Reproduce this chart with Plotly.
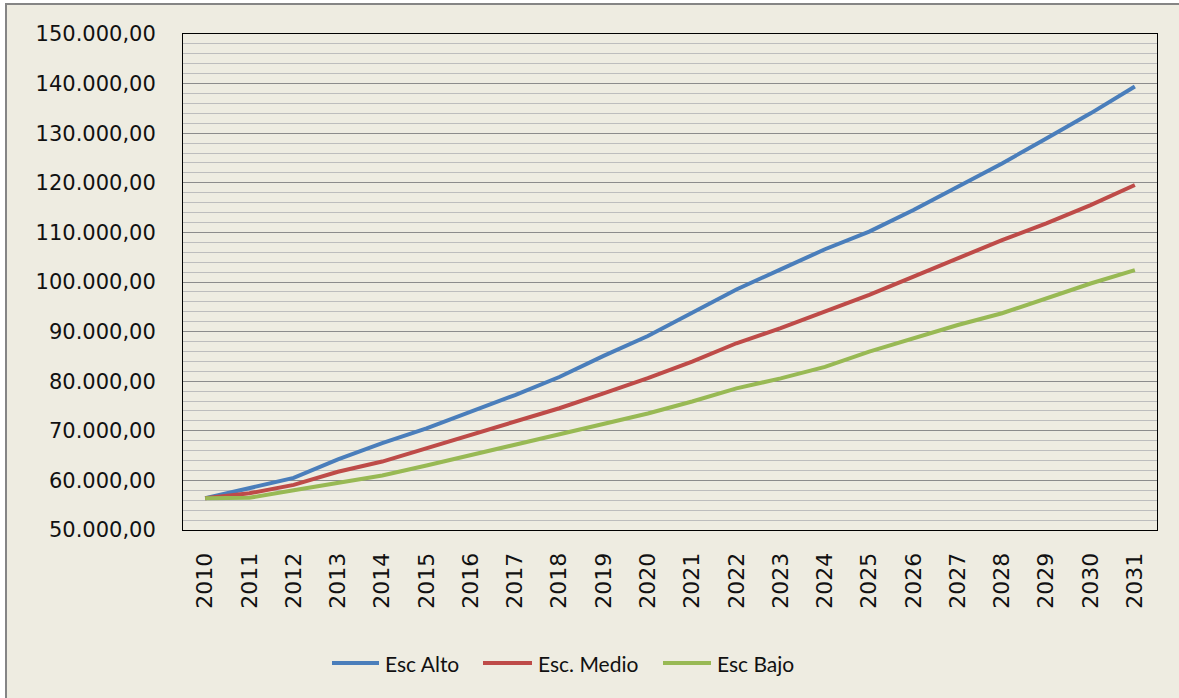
import plotly.graph_objects as go

years = [str(y) for y in range(2010, 2032)]
esc_alto = [56400, 58400, 60500, 64250, 67500, 70500, 73850, 77200, 80850, 85100, 89100,
            93800, 98500, 102550, 106600, 110150, 114500, 119200, 123900, 128950, 134000, 139400]
esc_medio = [56400, 57400, 59100, 61750, 63800, 66500, 69150, 71850, 74550, 77560, 80600,
             83950, 87650, 90680, 94000, 97400, 101100, 104800, 108450, 111800, 115500, 119550]
esc_bajo = [56400, 56500, 58000, 59400, 61000, 63000, 65100, 67350, 69500, 71400, 73500,
            75900, 78550, 80570, 82900, 85950, 88650, 91330, 93700, 96700, 99700, 102400]
series_names = ["Esc Alto", "Esc. Medio", "Esc Bajo"]
colors = ["#4A7EBB", "#BE4B48", "#98B954"]

W, H = 1179, 698
L, R, T, B = 183, 1157, 34, 530
pw = R - L
ph = B - T


def px(x):
    return (x - L) / pw


def py(y):
    return (B - y) / ph


fig = go.Figure()
for name, vals, col in zip(series_names, [esc_alto, esc_medio, esc_bajo], colors):
    fig.add_trace(go.Scatter(x=years, y=vals, name=name, mode="lines",
                             line=dict(color=col, width=4), showlegend=False))

bg = "#EEECE1"
fig.add_shape(type="rect", xref="paper", yref="paper",
              x0=px(6), x1=px(W + 20), y0=py(H + 20), y1=py(4),
              line=dict(color="#858585", width=2), fillcolor=bg, layer="below")

# custom legend (line samples + real text labels)
leg_y = 663
leg_items = [(332, 379, 383), (483, 532, 536), (663, 711, 715)]
for (lx0, lx1, tx), name, col in zip(leg_items, series_names, colors):
    fig.add_shape(type="line", xref="paper", yref="paper",
                  x0=px(lx0), x1=px(lx1), y0=py(leg_y), y1=py(leg_y),
                  line=dict(color=col, width=4))
    fig.add_annotation(xref="paper", yref="paper", x=px(tx), y=py(leg_y),
                       xanchor="left", yanchor="middle", showarrow=False,
                       text=name, font=dict(family="Lato", size=21, color="#111111"))

fig.update_layout(
    width=W, height=H,
    margin=dict(l=L, r=W - R, t=T, b=H - B, pad=0),
    paper_bgcolor="white",
    plot_bgcolor=bg,
    separators=",.",
    showlegend=False,
    font=dict(family="DejaVu Sans", color="#111111"),
)
fig.update_xaxes(type="category", range=[-0.5, 21.5], tickangle=-90,
                 showgrid=False, showline=True, mirror=True, linecolor="#000000", linewidth=1,
                 ticks="outside", ticklen=13, tickcolor="rgba(0,0,0,0)",
                 tickfont=dict(family="DejaVu Sans", size=22, color="#111111"))
fig.update_yaxes(range=[50000, 150000], dtick=10000, tick0=50000, tickformat=",.2f",
                 showgrid=True, gridcolor="#8c8c8c", gridwidth=1,
                 minor=dict(dtick=2000, showgrid=True, gridcolor="#bdbdbd", gridwidth=1),
                 showline=True, mirror=True, linecolor="#000000", linewidth=1,
                 zeroline=False,
                 ticks="outside", ticklen=22, tickcolor="rgba(0,0,0,0)",
                 tickfont=dict(family="DejaVu Sans", size=21, color="#111111"))

fig.write_html("out.html", config={"displayModeBar": False},
               post_script="document.body.style.margin='0px';document.body.style.overflow='hidden';")
